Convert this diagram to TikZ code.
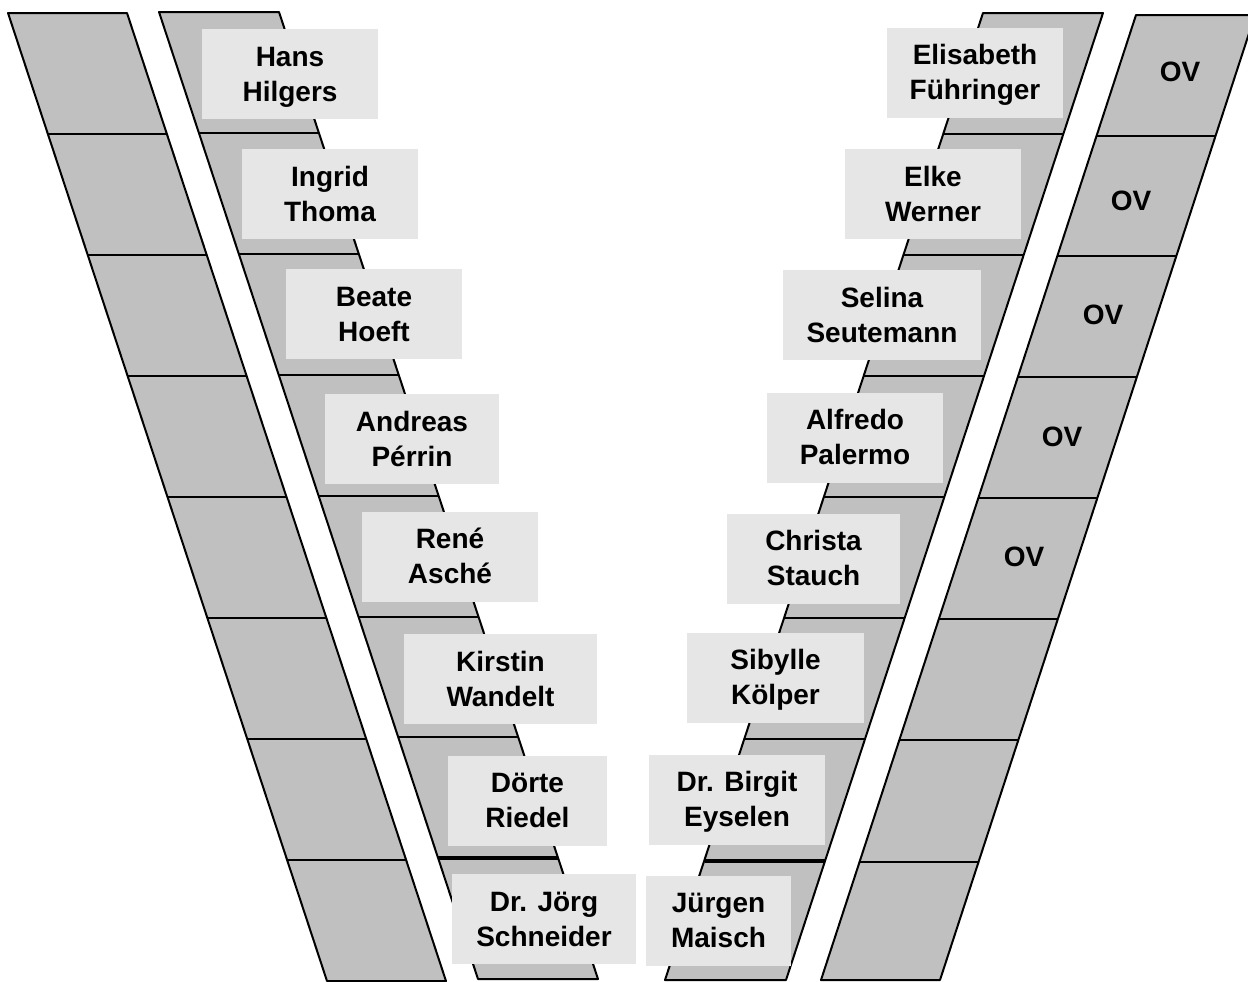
\documentclass[tikz,border=0pt]{standalone}
\usepackage{fontspec}
\setmainfont{Liberation Sans}
\usepackage{tikz}
\definecolor{colgray}{HTML}{C0C0C0}
\definecolor{boxgray}{HTML}{E6E6E6}
\tikzset{
  cell/.style={fill=colgray, draw=black, line width=1pt, line join=round},
  namebox/.style={fill=boxgray, inner sep=0pt, minimum height=45pt, align=center,
    text height=27pt, text depth=0pt,
    font=\bfseries\fontsize{14}{17.5}\selectfont},
  ovlabel/.style={inner sep=0pt, font=\bfseries\fontsize{14}{17.5}\selectfont}
}
\begin{document}
\begin{tikzpicture}[x=0.5pt, y=-0.5pt]
			\clip (0,0) rectangle (1248,981);
			\filldraw[cell] (8,13)--(127,13)--(446,981)--(327,981)--cycle;
			\draw[line width=1pt] (48,134)--(167,134);
			\draw[line width=1pt] (88,255)--(207,255);
			\draw[line width=1pt] (128,376)--(247,376);
			\draw[line width=1pt] (168,497)--(287,497);
			\draw[line width=1pt] (208,618)--(327,618);
			\draw[line width=1pt] (248,739)--(367,739);
			\draw[line width=1pt] (288,860)--(407,860);
			\filldraw[cell] (159,12)--(279,12)--(598,979)--(478,979)--cycle;
			\draw[line width=1pt] (199,133)--(319,133);
			\draw[line width=1pt] (239,254)--(359,254);
			\draw[line width=1pt] (279,375)--(399,375);
			\draw[line width=1pt] (319,496)--(439,496);
			\draw[line width=1pt] (359,617)--(479,617);
			\draw[line width=1pt] (398,737)--(518,737);
			\draw[line width=1.6pt] (438,858)--(558,858);
			\filldraw[cell] (983,13)--(1103,13)--(786,980)--(665,980)--cycle;
			\draw[line width=1pt] (943,134)--(1063,134);
			\draw[line width=1pt] (903,255)--(1023,255);
			\draw[line width=1pt] (864,376)--(984,376);
			\draw[line width=1pt] (824,497)--(944,497);
			\draw[line width=1pt] (784,618)--(904,618);
			\draw[line width=1pt] (745,739)--(865,739);
			\draw[line width=1.6pt] (705,861)--(825,861);
			\filldraw[cell] (1136,15)--(1255,15)--(940,980)--(821,980)--cycle;
			\draw[line width=1pt] (1097,136)--(1216,136);
			\draw[line width=1pt] (1058,256)--(1177,256);
			\draw[line width=1pt] (1018,377)--(1137,377);
			\draw[line width=1pt] (979,498)--(1098,498);
			\draw[line width=1pt] (939,619)--(1058,619);
			\draw[line width=1pt] (900,740)--(1019,740);
			\draw[line width=1pt] (860,862)--(979,862);
			\node[ovlabel] (ov1) at (1180,72) {OV};
			\node[ovlabel] (ov2) at (1131,201) {OV};
			\node[ovlabel] (ov3) at (1103,315) {OV};
			\node[ovlabel] (ov4) at (1062,437) {OV};
			\node[ovlabel] (ov5) at (1024,557) {OV};
			\node[namebox, minimum width=88pt] (hans) at (290,74) {Hans\\Hilgers};
			\node[namebox, minimum width=88pt] (ingrid) at (330,194) {Ingrid\\Thoma};
			\node[namebox, minimum width=88pt] (beate) at (374,314) {Beate\\Hoeft};
			\node[namebox, minimum width=87pt] (andreas) at (412,439) {Andreas\\Pérrin};
			\node[namebox, minimum width=88pt] (rene) at (450,556.5) {René\\Asché};
			\node[namebox, minimum width=96.5pt] (kirstin) at (500.5,679) {Kirstin\\Wandelt};
			\node[namebox, minimum width=79.5pt] (doerte) at (527.5,800.5) {Dörte\\Riedel};
			\node[namebox, minimum width=92pt] (joerg) at (544,919) {Dr. Jörg\\Schneider};
			\node[namebox, minimum width=88pt] (elisabeth) at (975,72.5) {Elisabeth\\Führinger};
			\node[namebox, minimum width=88pt] (elke) at (933,194) {Elke\\Werner};
			\node[namebox, minimum width=99pt] (selina) at (882,315) {Selina\\Seutemann};
			\node[namebox, minimum width=88pt] (alfredo) at (855,437.5) {Alfredo\\Palermo};
			\node[namebox, minimum width=86.5pt] (christa) at (813.5,558.5) {Christa\\Stauch};
			\node[namebox, minimum width=88.5pt] (sibylle) at (775.5,677.5) {Sibylle\\Kölper};
			\node[namebox, minimum width=88pt] (birgit) at (737,799.5) {Dr. Birgit\\Eyselen};
			\node[namebox, minimum width=72.5pt] (juergen) at (718.5,920.5) {Jürgen\\Maisch};
		\end{tikzpicture}
\end{document}
